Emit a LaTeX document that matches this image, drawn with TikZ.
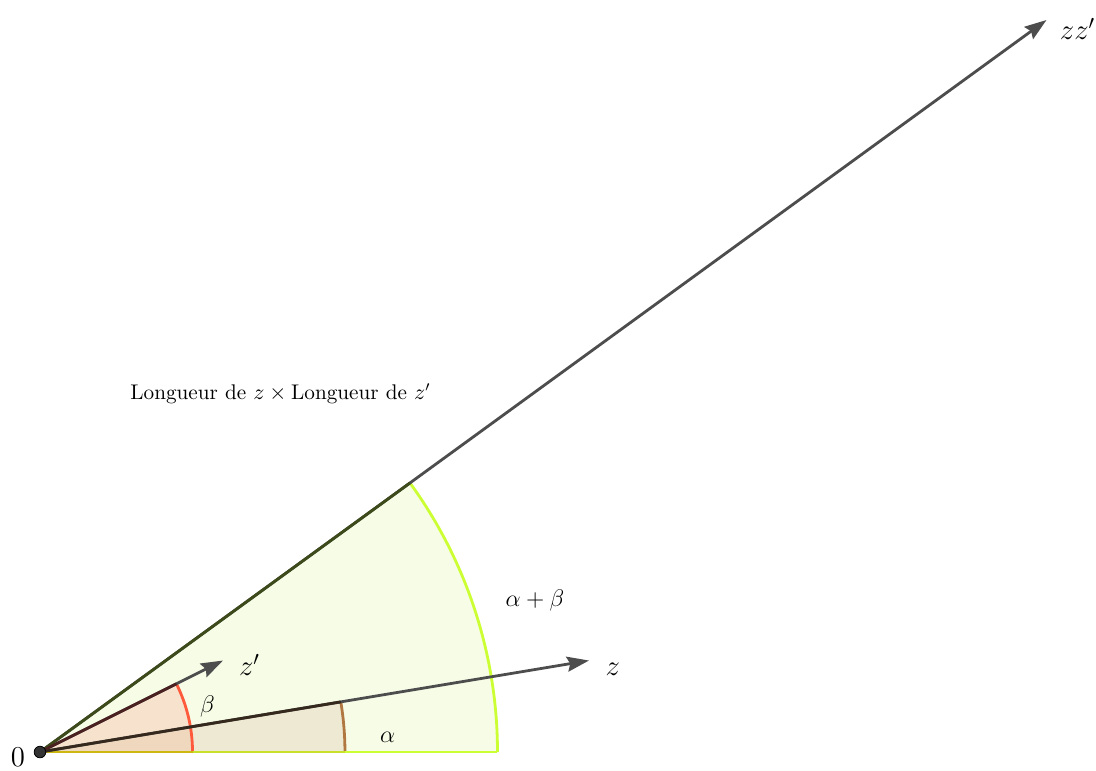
\documentclass[tikz,border=0pt]{standalone}
\usetikzlibrary{arrows.meta}
\definecolor{vecgray}{HTML}{4D4D4D}
\definecolor{limeS}{HTML}{CCFF33}
\definecolor{limeF}{HTML}{F6FCE6}
\definecolor{brownS}{HTML}{B07840}
\definecolor{brownF}{HTML}{EEE9D2}
\definecolor{redS}{HTML}{FF5A3C}
\definecolor{redF}{HTML}{F7E2CD}
\definecolor{redbrownF}{HTML}{F0D8BE}
\definecolor{olive}{HTML}{3D4A1A}
\definecolor{darkred}{HTML}{4A2020}
\definecolor{darkbrown}{HTML}{35281C}
\definecolor{edgeA}{HTML}{CDB812}
\definecolor{edgeB}{HTML}{C8E02A}
\tikzset{
  vec/.style={draw=vecgray, line width=1.4pt, -{Stealth[length=11pt,width=7.5pt,inset=1.5pt]}},
  arcline/.style={line width=1.4pt},
  lbl/.style={inner sep=0pt, font=\fontsize{14.5pt}{16pt}\selectfont},
  anglbl/.style={inner sep=0pt, font=\fontsize{12pt}{14pt}\selectfont},
  txt/.style={inner sep=0pt, font=\fontsize{10.6pt}{13pt}\selectfont}
}
\begin{document}
\begin{tikzpicture}[x=45.75pt,y=45.75pt]
\useasboundingbox (-0.437,-0.197) rectangle (11.541,8.219);
\coordinate (O) at (0,0);
\coordinate (z) at (6,1);
\coordinate (zp) at (2,1);
\coordinate (zzp) at (11,8);
% sectors
\fill[limeF] (O) -- (0:5) arc[start angle=0,end angle=36.027,radius=5] -- cycle;
\fill[brownF] (O) -- (0:3.333) arc[start angle=0,end angle=9.462,radius=3.333] -- cycle;
\fill[redF] (O) -- (0:1.667) arc[start angle=0,end angle=26.565,radius=1.667] -- cycle;
\fill[redbrownF] (O) -- (0:1.667) arc[start angle=0,end angle=9.462,radius=1.667] -- cycle;
% arcs
\draw[limeS, arcline] (0:5) arc[start angle=0,end angle=36.027,radius=5];
\draw[brownS, arcline] (0:3.333) arc[start angle=0,end angle=9.462,radius=3.333];
\draw[redS, arcline] (0:1.667) arc[start angle=0,end angle=26.565,radius=1.667];
% bottom edges
\draw[limeS, arcline] (O) -- (5,0);
\draw[edgeB, arcline] (O) -- (3.333,0);
\draw[edgeA, arcline] (O) -- (1.667,0);
% vectors
\draw[vec] (O) -- (zzp);
\draw[vec] (O) -- (z);
\draw[vec] (O) -- (zp);
% darker radial edges
\draw[olive, line width=1.4pt] (O) -- (36.027:5);
\draw[darkbrown, line width=1.4pt] (O) -- (9.462:3.333);
\draw[darkred, line width=1.4pt] (O) -- (26.565:1.667);
% origin point
\fill[black!80, draw=black, line width=0.4pt] (O) circle (2.9pt);
% labels
\node[lbl] (l0) at (-0.24,-0.06) {$0$};
\node[lbl] (lz) at (6.26,0.9) {$z$};
\node[lbl] (lzp) at (2.29,0.95) {$z'$};
\node[lbl] (lzzp) at (11.34,7.9) {$zz'$};
\node[anglbl] (lb) at (1.83,0.50) {$\beta$};
\node[anglbl] (la) at (3.80,0.16) {$\alpha$};
\node[anglbl, font=\fontsize{13pt}{15pt}\selectfont] (lab) at (5.41,1.66) {$\alpha+\beta$};
\node[txt] (ltxt) at (2.63,3.92) {Longueur de $z\times{}$Longueur de $z'$};
\end{tikzpicture}
\end{document}
